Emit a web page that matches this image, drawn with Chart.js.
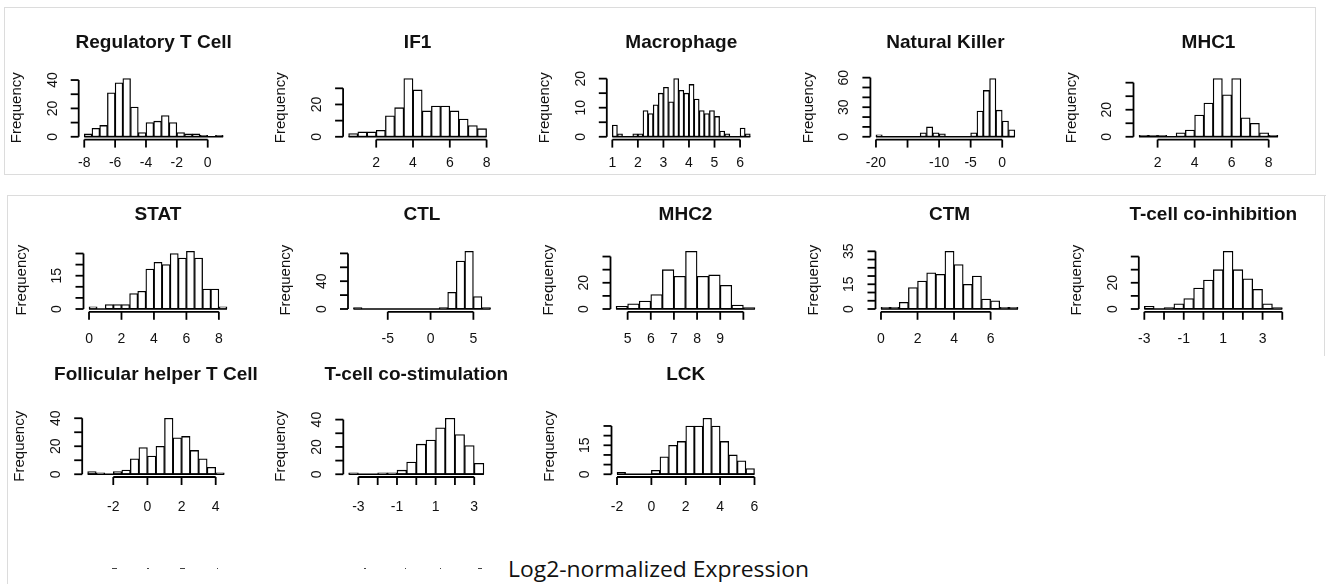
<!DOCTYPE html>
<html>
<head>
<meta charset="utf-8">
<title>Signature histograms</title>
<script src="https://cdn.jsdelivr.net/npm/chart.js@4.4.1/dist/chart.umd.min.js"></script>
<style>
  html, body { margin: 0; padding: 0; background: #fff; }
  body { position: relative; width: 1328px; height: 584px; overflow: hidden; font-family: "Liberation Sans", Arial, sans-serif; }
  canvas { position: absolute; }
  .frame { position: absolute; border: 1px solid #dcdcdc; box-sizing: border-box; }
  #xlab { position: absolute; left: 508px; top: 555px; font-size: 21px; font-family: "Open Sans", sans-serif; color: #111; white-space: nowrap; transform-origin: 0 0; }
  .stub { position: absolute; top: 568px; height: 1px; background: #444; }
</style>
</head>
<body>
<div class="frame" style="left:4px;top:7px;width:1312px;height:168px;"></div>
<div class="frame" style="left:7px;top:195px;width:1319px;height:420px;border-right:none;border-bottom:none;"></div>
<div class="frame" style="left:1324px;top:195px;width:1px;height:161px;border-width:0 0 0 1px;"></div>
<div id="xlab">Log2-normalized Expression</div>
<div class="stub" style="left:112px;width:5px"></div>
<div class="stub" style="left:147px;width:2px"></div>
<div class="stub" style="left:180px;width:5px"></div>
<div class="stub" style="left:217px;width:1px"></div>
<div class="stub" style="left:364px;width:2px"></div>
<div class="stub" style="left:405px;width:1px"></div>
<div class="stub" style="left:440px;width:1px"></div>
<div class="stub" style="left:478px;width:4px"></div>
<script>
"use strict";

const panelTitles = ["Regulatory T Cell", "IF1", "Macrophage", "Natural Killer", "MHC1",
    "STAT", "CTL", "MHC2", "CTM", "T-cell co-inhibition",
    "Follicular helper T Cell", "T-cell co-stimulation", "LCK"];

// histogram breaks: first break and bin width of each panel
const binStart = [-8, 0.5, 1, -20, 1, 0, -9, 4.5, 0, -3, -3.5, -3.5, -2];
const binWidth = [0.5, 0.5, 0.2, 1, 0.5, 0.5, 1, 0.5, 0.5, 0.5, 0.5, 0.5, 0.5];

// bin counts
const regulatoryTCell = [2, 6, 8, 31, 38, 41, 21, 3, 10, 11, 15, 10, 3, 2, 2, 1, 0, 1];
const if1 = [2, 3, 3, 4, 13, 18, 36, 29, 16, 19, 19, 16, 11, 7, 5];
const macrophage = [4, 1, 0, 0, 1, 1, 9, 8, 11, 15, 17, 12, 20, 16, 15, 18, 13, 9, 8, 9, 7, 2, 1, 0, 0, 3, 1];
const naturalKiller = [2, 0, 0, 0, 0, 0, 0, 4, 10, 4, 3, 0, 0, 0, 0, 4, 26, 47, 59, 27, 16, 7];
const mhc1 = [1, 1, 1, 0, 3, 5, 16, 25, 43, 31, 43, 14, 10, 3, 1];
const stat = [1, 0, 2, 2, 2, 7, 8, 18, 21, 20, 25, 23, 26, 23, 9, 9, 1];
const ctl = [2, 0, 0, 0, 0, 0, 0, 0, 0, 0, 2, 24, 69, 83, 18, 2];
const mhc2 = [2, 4, 6, 11, 30, 25, 44, 25, 26, 18, 3, 1];
const ctm = [1, 1, 4, 13, 17, 22, 21, 35, 27, 15, 20, 6, 5, 1, 1];
const tCellCoInhibition = [2, 0, 1, 4, 8, 16, 22, 30, 44, 30, 23, 15, 4, 1];
const follicularHelperTCell = [2, 1, 0, 2, 3, 11, 19, 13, 20, 40, 26, 27, 17, 11, 5, 1];
const tCellCoStimulation = [1, 0, 0, 1, 1, 3, 9, 22, 25, 34, 41, 29, 21, 8];
const lck = [1, 0, 0, 0, 2, 9, 15, 17, 25, 25, 29, 25, 17, 10, 7, 3];

const counts = [regulatoryTCell, if1, macrophage, naturalKiller, mhc1,
    stat, ctl, mhc2, ctm, tCellCoInhibition,
    follicularHelperTCell, tCellCoStimulation, lck];

const xTicks = [
    [-8, -6, -4, -2, 0], [2, 4, 6, 8], [1, 2, 3, 4, 5, 6], [-20, -15, -10, -5, 0], [2, 4, 6, 8],
    [0, 2, 4, 6, 8], [-5, 0, 5], [5, 6, 7, 8, 9, 10], [0, 2, 4, 6], [-3, -2, -1, 0, 1, 2, 3, 4],
    [-2, 0, 2, 4], [-3, -2, -1, 0, 1, 2, 3], [-2, 0, 2, 4, 6]
];
const xTickLabels = [
    ["-8", "-6", "-4", "-2", "0"], ["2", "4", "6", "8"], ["1", "2", "3", "4", "5", "6"],
    ["-20", "", "-10", "-5", "0"], ["2", "4", "6", "8"],
    ["0", "2", "4", "6", "8"], ["-5", "0", "5"], ["5", "6", "7", "8", "9", ""], ["0", "2", "4", "6"],
    ["-3", "", "-1", "", "1", "", "3", ""],
    ["-2", "0", "2", "4"], ["-3", "", "-1", "", "1", "", "3"], ["-2", "0", "2", "4", "6"]
];
const yTicks = [
    [0, 10, 20, 30, 40], [0, 10, 20, 30], [0, 5, 10, 15, 20], [0, 10, 20, 30, 40, 50, 60], [0, 10, 20, 30, 40],
    [0, 5, 10, 15, 20, 25], [0, 20, 40, 60, 80], [0, 10, 20, 30, 40], [0, 5, 10, 15, 20, 25, 30, 35], [0, 10, 20, 30, 40],
    [0, 10, 20, 30, 40], [0, 10, 20, 30, 40], [0, 5, 10, 15, 20, 25]
];
const yTickLabels = [
    ["0", "", "20", "", "40"], ["0", "", "20", ""], ["0", "", "10", "", "20"], ["0", "", "", "30", "", "", "60"], ["0", "", "20", "", ""],
    ["0", "", "", "15", "", ""], ["0", "", "40", "", ""], ["0", "", "20", "", ""], ["0", "", "", "15", "", "", "", "35"], ["0", "", "20", "", ""],
    ["0", "", "20", "", "40"], ["0", "", "20", "", "40"], ["0", "", "", "15", "", ""]
];

// page layout of the plot regions
const rows = [
    {top: 76.3, bottom: 139.1, labelDy: 24, titleDy: 34},
    {top: 249, bottom: 311.3, labelDy: 27, titleDy: 34},
    {top: 416, bottom: 476.5, labelDy: 30, titleDy: 41}
];
const panelRow = [0, 0, 0, 0, 0, 1, 1, 1, 1, 1, 2, 2, 2];
const panelLeft = [78.7, 343.1, 606.8, 870.4, 1133.5, 83.5, 348, 610.5, 875.5, 1138.8, 82.2, 343.3, 611.5];
const panelWidth = [150, 149, 149, 150, 150, 149, 148, 150, 148, 149, 147.5, 146, 148.5];

function segment(ctx, x1, y1, x2, y2) {
    ctx.beginPath();
    ctx.moveTo(x1, y1);
    ctx.lineTo(x2, y2);
    ctx.stroke();
}

function rotatedText(ctx, text, x, y) {
    ctx.save();
    ctx.translate(x, y);
    ctx.rotate(-Math.PI / 2);
    ctx.fillText(text, 0, 0);
    ctx.restore();
}

// draws the histogram in the look of base R hist(): detached axes, rotated y labels
const rHist = {
    id: 'rHist',
    afterDatasetsDraw(chart, args, opts) {
        const i = opts.panel;
        const row = rows[panelRow[i]];
        const ctx = chart.ctx;
        const area = chart.chartArea;
        const x = chart.scales.x;
        const y = chart.scales.y;
        const lo = binStart[i];
        const hi = binStart[i] + counts[i].length * binWidth[i];

        ctx.save();
        ctx.strokeStyle = '#000';
        ctx.fillStyle = '#111';
        ctx.textAlign = 'center';
        ctx.textBaseline = 'middle';

        // bottom of the bars, also shows the empty bins
        ctx.lineWidth = 1.6;
        const y0 = y.getPixelForValue(0);
        segment(ctx, x.getPixelForValue(lo), y0, x.getPixelForValue(hi), y0);

        ctx.lineWidth = 1.8;
        ctx.font = '14px "Liberation Sans", Arial, sans-serif';

        const xt = xTicks[i];
        const xb = area.bottom + 0.5;
        segment(ctx, x.getPixelForValue(xt[0]), xb, x.getPixelForValue(xt[xt.length - 1]), xb);
        xt.forEach((v, k) => {
            const px = x.getPixelForValue(v);
            segment(ctx, px, xb, px, xb + 8);
            ctx.fillText(xTickLabels[i][k], px, xb + row.labelDy);
        });

        const yt = yTicks[i];
        const yl = area.left;
        segment(ctx, yl, y.getPixelForValue(yt[0]), yl, y.getPixelForValue(yt[yt.length - 1]));
        yt.forEach((v, k) => {
            const py = y.getPixelForValue(v);
            segment(ctx, yl, py, yl - 8, py);
            rotatedText(ctx, yTickLabels[i][k], yl - 26, py);
        });

        ctx.font = '15px "Liberation Sans", Arial, sans-serif';
        rotatedText(ctx, 'Frequency', yl - 62, (area.top + area.bottom) / 2);

        ctx.font = 'bold 19px "Liberation Sans", Arial, sans-serif';
        ctx.fillText(panelTitles[i], (area.left + area.right) / 2, area.top - row.titleDy);
        ctx.restore();
    }
};

function makePanel(i) {
    const row = rows[panelRow[i]];
    const left = Math.floor(panelLeft[i]) - 100;
    const top = Math.floor(row.top) - 62;
    const width = 300;
    const height = Math.ceil(row.bottom) - top + 46;

    const canvas = document.createElement('canvas');
    canvas.width = width;
    canvas.height = height;
    canvas.style.left = left + 'px';
    canvas.style.top = top + 'px';
    document.body.appendChild(canvas);

    const padLeft = panelLeft[i] - left;
    const padTop = row.top - top;
    const lo = binStart[i];
    const hi = binStart[i] + counts[i].length * binWidth[i];
    const ymax = Math.max(...counts[i]);

    new Chart(canvas.getContext('2d'), {
        type: 'bar',
        data: {
            datasets: [{
                data: counts[i].map((c, k) => ({x: binStart[i] + (k + 0.5) * binWidth[i], y: c})),
                backgroundColor: '#fff',
                borderColor: '#000',
                borderWidth: 1.3,
                borderSkipped: false,
                barPercentage: 1,
                categoryPercentage: 1
            }]
        },
        options: {
            responsive: false,
            animation: false,
            events: [],
            layout: {
                padding: {
                    left: padLeft,
                    top: padTop,
                    right: width - padLeft - panelWidth[i],
                    bottom: height - (row.bottom - top)
                }
            },
            plugins: {
                legend: {display: false},
                tooltip: {enabled: false},
                rHist: {panel: i}
            },
            scales: {
                x: {
                    type: 'linear',
                    display: false,
                    offset: false,
                    min: lo - 0.04 * (hi - lo),
                    max: hi + 0.04 * (hi - lo)
                },
                y: {
                    display: false,
                    min: -0.04 * ymax,
                    max: 1.04 * ymax
                }
            }
        },
        plugins: [rHist]
    });
}

for (let i = 0; i < counts.length; i++) {
    makePanel(i);
}

const xlab = document.getElementById('xlab');
xlab.style.transform = 'scaleX(' + (301 / xlab.getBoundingClientRect().width) + ')';
</script>
</body>
</html>
